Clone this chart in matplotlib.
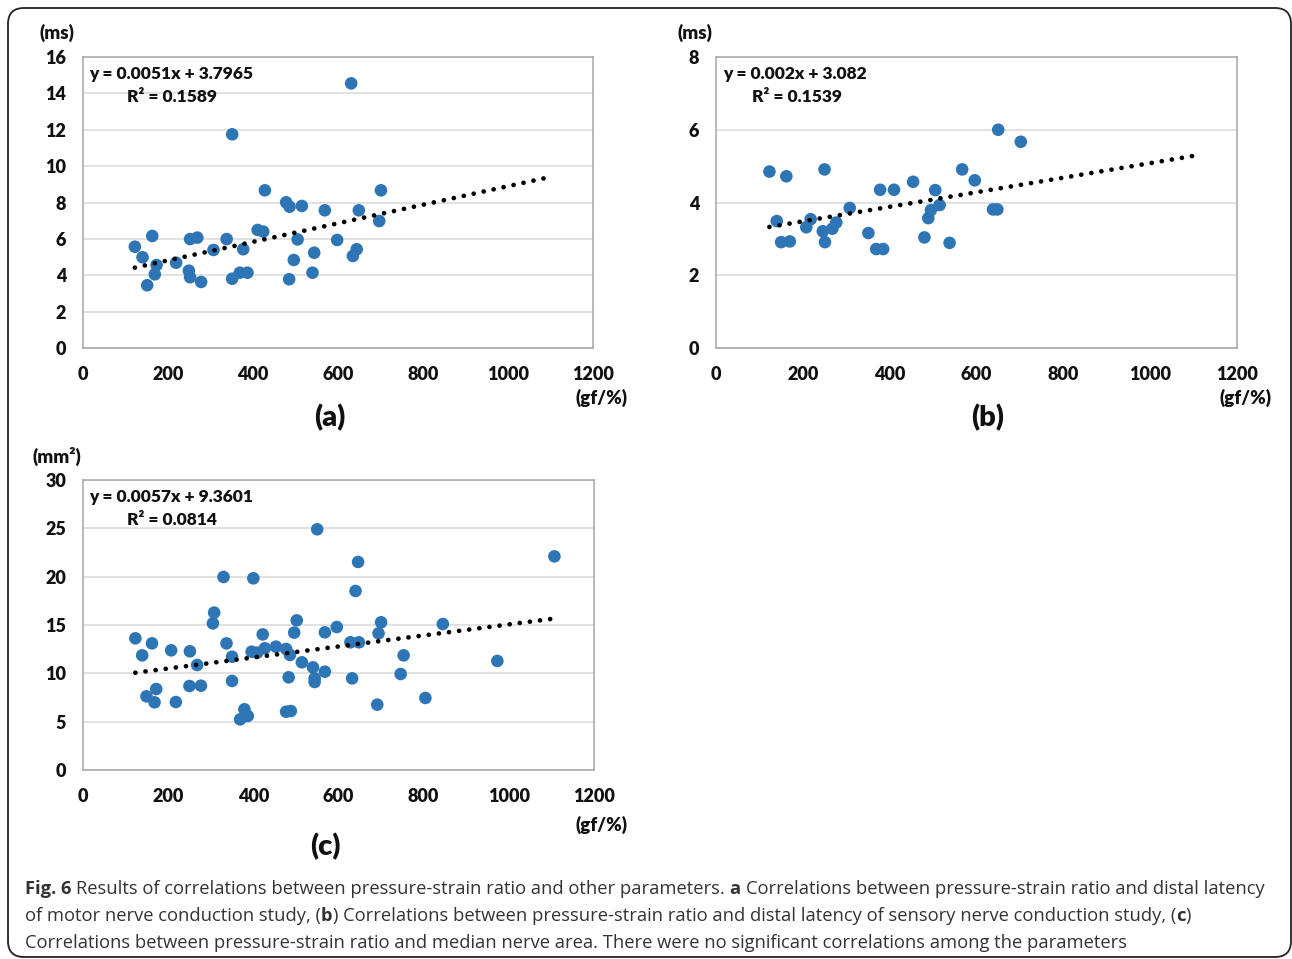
import matplotlib
matplotlib.use("Agg")
import matplotlib.pyplot as plt
import matplotlib.patches as mpatches
from matplotlib.transforms import IdentityTransform
import numpy as np

# pressure-strain ratio (gf/%) vs. motor distal latency (ms)
a_x = [122, 140, 163, 173, 169, 151, 219, 252, 269, 249, 252, 278, 307, 338, 351, 351, 369, 387, 377,
       411, 424, 428, 478, 486, 515, 505, 485, 496, 544, 540, 569, 598, 635, 644, 649, 631, 701, 697]
a_y = [5.57, 4.99, 6.16, 4.56, 4.05, 3.45, 4.69, 5.99, 6.07, 4.25, 3.89, 3.63, 5.39, 5.99, 11.75, 3.81,
       4.14, 4.14, 5.43, 6.49, 6.40, 8.67, 8.01, 7.77, 7.81, 5.97, 3.78, 4.84, 5.24, 4.14, 7.57, 5.94,
       5.06, 5.43, 7.57, 14.55, 8.67, 6.98]

# pressure-strain ratio vs. sensory distal latency (ms)
b_x = [123, 162, 140, 150, 170, 208, 218, 250, 246, 251, 268, 277, 308, 351, 369, 385, 378, 410, 454,
       480, 489, 495, 505, 515, 538, 567, 596, 638, 648, 650, 702]
b_y = [4.85, 4.72, 3.49, 2.91, 2.93, 3.32, 3.54, 4.91, 3.21, 2.91, 3.28, 3.45, 3.85, 3.16, 2.72, 2.72,
       4.35, 4.35, 4.57, 3.04, 3.57, 3.79, 4.34, 3.93, 2.89, 4.91, 4.61, 3.81, 3.81, 6.0, 5.67]

# pressure-strain ratio vs. median nerve area (mm2)
c_x = [123, 139, 162, 172, 149, 168, 207, 218, 251, 268, 250, 277, 308, 305, 330, 337, 350, 350, 369,
       379, 387, 400, 396, 409, 422, 427, 453, 477, 486, 483, 477, 488, 496, 502, 514, 540, 544, 544,
       568, 568, 550, 596, 632, 628, 648, 640, 646, 691, 694, 700, 753, 746, 804, 845, 973, 1107]
c_y = [13.62, 11.86, 13.10, 8.38, 7.62, 7.0, 12.38, 7.03, 12.28, 10.86, 8.69, 8.72, 16.28, 15.17, 19.97,
       13.10, 11.72, 9.21, 5.24, 6.28, 5.59, 19.83, 12.24, 12.14, 14.03, 12.59, 12.76, 12.52, 11.90,
       9.59, 6.03, 6.10, 14.21, 15.48, 11.14, 10.62, 9.48, 9.1, 10.17, 14.24, 24.9, 14.79, 9.48, 13.21,
       13.21, 18.52, 21.52, 6.76, 14.14, 15.28, 11.86, 9.93, 7.45, 15.1, 11.28, 22.1]

# linear trend lines: (slope, intercept, R2) and the x span they cover
fit_a = (0.0051, 3.7965, 0.1589)
fit_b = (0.002, 3.082, 0.1539)
fit_c = (0.0057, 9.3601, 0.0814)
span_a = [122, 1090]
span_b = [123, 1100]
span_c = [123, 1100]

x_ticks = [0, 200, 400, 600, 800, 1000, 1200]
y_ticks_a = [0, 2, 4, 6, 8, 10, 12, 14, 16]
y_ticks_b = [0, 2, 4, 6, 8]
y_ticks_c = [0, 5, 10, 15, 20, 25, 30]

W, H = 1292, 959
FONT = ["Lato", "DejaVu Sans"]
HEAVY = 800
BLUE = "#2E75B6"
TXT = "#111111"

fig = plt.figure(figsize=(W / 100, H / 100), dpi=100)
fig.patch.set_facecolor("white")


def px_axes(left, top, right, bottom):
    return fig.add_axes([left / W, 1 - bottom / H, (right - left) / W, (bottom - top) / H])


def panel(ax, xs, ys, fit, span, yticks, eq, eq_x, r2_x):
    ax.set_xlim(0, 1200)
    ax.set_ylim(yticks[0], yticks[-1])
    ax.set_xticks(x_ticks)
    ax.set_yticks(yticks)
    ax.grid(axis="y", color="#d9d9d9", lw=1.1)
    ax.set_axisbelow(True)
    for s in ax.spines.values():
        s.set_color("#a6a6a6")
        s.set_linewidth(1.1)
    ax.tick_params(length=0, labelsize=13, pad=13, colors=TXT)
    ax.tick_params(axis="y", pad=12)
    for lab in ax.get_xticklabels() + ax.get_yticklabels():
        lab.set_fontweight(HEAVY)
        lab.set_family(FONT)
    ax.scatter(xs, ys, s=82, color=BLUE, edgecolors="none", zorder=3)
    k, b, r2 = fit
    tx = np.array(span, dtype=float)
    line, = ax.plot(tx, k * tx + b, color="black", lw=3.4, zorder=4)
    line.set_dashes([0.01, 2.15])
    line.set_dash_capstyle("round")
    ax.text(eq_x, 0.94, eq, transform=ax.transAxes, fontsize=12.5, fontweight=HEAVY,
            family=FONT, color=TXT, va="center", ha="left")
    ax.text(r2_x, 0.863, "R\u00b2 = %.4f" % r2, transform=ax.transAxes, fontsize=12.5,
            fontweight=HEAVY, family=FONT, color=TXT, va="center", ha="left")


ax_a = px_axes(83, 57, 593, 348)
panel(ax_a, a_x, a_y, fit_a, span_a, y_ticks_a, "y = 0.0051x + 3.7965", 0.012, 0.087)
ax_b = px_axes(716, 57, 1237, 348)
panel(ax_b, b_x, b_y, fit_b, span_b, y_ticks_b, "y = 0.002x + 3.082", 0.013, 0.069)
ax_c = px_axes(83, 480, 594, 770)
panel(ax_c, c_x, c_y, fit_c, span_c, y_ticks_c, "y = 0.0057x + 9.3601", 0.012, 0.087)


def ftext(x, y, s, size, **kw):
    return fig.text(x / W, 1 - y / H, s, fontsize=size, family=FONT, **kw)


# unit labels and panel letters
for x, y, s in [(57, 33, "(ms)"), (695, 33, "(ms)"), (57, 456, "(mm\u00b2)")]:
    ftext(x, y, s, 13.5, fontweight=HEAVY, color=TXT, ha="center", va="center")
for x, y in [(601, 398), (1246, 398), (601, 825)]:
    ftext(x, y, "(gf/%)", 13.5, fontweight=HEAVY, color=TXT, ha="center", va="center")
for x, y, s in [(330, 418, "(a)"), (988, 418, "(b)"), (325, 847, "(c)")]:
    ftext(x, y, s, 21, fontweight=HEAVY, color=TXT, ha="center", va="center")

# outer rounded frame
frame = mpatches.FancyBboxPatch((8, 2), 1283, 949, boxstyle="round,pad=0,rounding_size=16",
                                transform=IdentityTransform(), fill=False, ec="#222222", lw=1.3)
fig.add_artist(frame)

# caption, written run by run so the bold pieces sit inline
caption = [
    [("Fig. 6", "bold"), (" Results of correlations between pressure-strain ratio and other parameters. ", "normal"),
     ("a", "bold"), (" Correlations between pressure-strain ratio and distal latency", "normal")],
    [("of motor nerve conduction study, (", "normal"), ("b", "bold"),
     (") Correlations between pressure-strain ratio and distal latency of sensory nerve conduction study, (", "normal"),
     ("c", "bold"), (")", "normal")],
    [("Correlations between pressure-strain ratio and median nerve area. There were no significant correlations among the parameters", "normal")],
]
cap_font = ["Open Sans", "DejaVu Sans"]
renderer = fig.canvas.get_renderer()


def run_width(s, weight, size):
    t = fig.text(0, 0, s.replace(" ", "\u00a0"), fontsize=size, fontweight=weight, family=cap_font)
    w = t.get_window_extent(renderer).width
    t.remove()
    return w


def place_runs(runs, x0, y, size, draw=True):
    x = x0
    for s, weight in runs:
        lead = len(s) - len(s.lstrip(" "))
        trail = len(s) - len(s.rstrip(" "))
        core = s.strip(" ")
        sp = run_width("a a", weight, size) - run_width("aa", weight, size)
        x += lead * sp
        if core:
            if draw:
                fig.text(x / W, 1 - y / H, core, fontsize=size, fontweight=weight,
                         family=cap_font, color="#333333", va="center", ha="left")
            x += run_width(core, weight, size)
        x += trail * sp
    return x - x0


probe = place_runs(caption[0], 0, 0, 12, draw=False)
cap_size = 12 * 1232 / probe
for i, runs in enumerate(caption):
    place_runs(runs, 25, 889 + i * 27, cap_size)

fig.savefig("out.png", dpi=100, facecolor="white")
